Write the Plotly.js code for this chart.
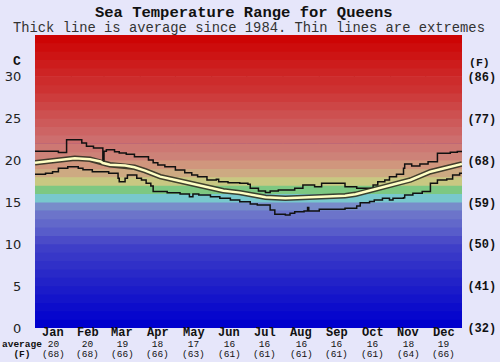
<!DOCTYPE html>
<html><head><meta charset="utf-8">
<script src="https://cdn.plot.ly/plotly-3.0.1.min.js"></script>
<style>html,body{margin:0;padding:0;background:#e6e6fa;} #chart{width:500px;height:362px;}</style>
</head><body><div id="chart"></div>
<script>
// ---- data ----
const months = ['Jan','Feb','Mar','Apr','May','Jun','Jul','Aug','Sep','Oct','Nov','Dec'];
const monthStarts = [0,31,59,90,120,151,181,212,243,273,304,334,365];
const avgC = [20,20,19,18,17,16,16,16,16,16,18,19];
const avgF = ['(68)','(68)','(66)','(66)','(63)','(61)','(61)','(61)','(61)','(61)','(64)','(66)'];
const tempTicksC = [0,5,10,15,20,25,30];
const tempTicksF = ['(32)','(41)','(50)','(59)','(68)','(77)','(86)'];

const avgDay  = [0,13,21,34,47,56,58,60,64,77,85,94,107,120,132,147,161,175,184,197,214,231,248,265,274,286,303,321,338,355,365];
const avgTemp = [19.75,19.95,20.1,20.27,20.15,19.9,19.7,19.65,19.5,19.4,19.2,18.8,18.08,17.68,17.29,16.81,16.4,16.17,15.97,15.61,15.49,15.57,15.69,15.81,15.97,16.4,16.97,17.68,18.67,19.27,19.6];

const maxDay  = [0,20,27,40,44,50,58,59,61,68,72,78,85,97,101,105,111,120,128,134,139,147,155,157,165,175,182,184,191,197,201,208,222,229,239,245,265,275,289,293,299,303,309,315,316,322,329,336,344,355,361,365];
const maxTemp = [21.1,20.95,22.5,22.1,21.7,21.5,19.7,21.1,21.3,21.05,20.9,20.75,20.45,20.07,19.75,19.47,19.27,18.88,18.56,18.28,18.08,17.68,17.76,17.48,17.36,17.29,17.17,16.69,16.37,16.2,16.37,16.49,16.69,17.08,16.88,17.29,16.88,16.69,17.08,17.48,17.68,18.08,18.36,19.07,19.6,19.35,19.6,19.87,20.87,20.99,21.07,21.07];

const minDay  = [0,9,15,20,28,37,41,49,63,71,72,77,79,87,91,95,99,101,113,124,132,135,140,150,158,167,175,184,190,201,205,214,218,222,230,233,234,243,265,275,278,286,290,297,303,306,315,316,323,331,338,344,352,357,363,365];
const minTemp = [18.36,18.48,18.67,19.08,19.27,19.08,18.9,18.67,18.48,17.88,17.48,17.88,18.28,17.88,17.68,17.29,16.97,16.3,16.17,16.0,15.69,16.0,15.9,15.69,15.49,15.29,15.09,14.8,14.7,14.1,13.58,13.5,13.7,13.9,13.98,14.4,13.98,14.2,14.3,14.58,14.97,15.1,15.29,15.49,15.29,15.49,15.57,15.89,16.09,16.3,17.29,17.68,17.8,18.28,18.48,18.48];

// ---- style ----
const bandColors = [
 'rgb(0,0,205)','rgb(6,6,205)','rgb(13,13,203)','rgb(20,20,202)','rgb(27,27,201)',
 'rgb(34,34,200)','rgb(41,41,200)','rgb(48,48,200)','rgb(55,55,200)','rgb(62,62,200)',
 'rgb(75,75,200)','rgb(88,92,202)','rgb(98,104,202)','rgb(108,116,202)','rgb(120,140,202)',
 'rgb(120,200,205)','rgb(125,200,130)','rgb(200,200,130)','rgb(205,170,130)','rgb(208,150,125)',
 'rgb(205,130,120)','rgb(205,120,115)','rgb(205,110,110)','rgb(205,100,100)','rgb(205,90,90)',
 'rgb(205,80,80)','rgb(205,70,70)','rgb(205,60,60)','rgb(205,50,50)','rgb(205,44,44)',
 'rgb(205,36,36)','rgb(205,28,28)','rgb(205,20,20)','rgb(205,12,12)','rgb(205,4,4)'];

const PL = 35, PR = 462, PW = PR - PL, PT = 35, PB = 328, PH = PB - PT;
const py = px => (PB - px) / PH;
const pxx = px => (px - PL) / PW;
const mono = 'Liberation Mono, Courier New, monospace';

const shapes = [];
bandColors.forEach((c, i) => shapes.push({type:'rect', xref:'x', yref:'y', x0:0, x1:365, y0:i,
  y1:Math.min(i + 1.08, bandColors.length), fillcolor:c, line:{width:0}, layer:'below'}));
tempTicksC.slice(1).forEach(v => shapes.push({type:'line', xref:'paper', yref:'y', x0:0, x1:1, y0:v, y1:v,
  line:{color:'rgba(250,250,250,0.95)', width:2}, layer:'below'}));
monthStarts.slice(1, -1).forEach(d => shapes.push({type:'line', xref:'x', yref:'paper', x0:d, x1:d, y0:0, y1:1,
  line:{color:'rgba(85,85,85,0.85)', width:1}, layer:'below'}));

function ann(text, xref, x, ypx, size, extra) {
  return Object.assign({text:text, xref:xref, yref:'paper', x:x, y:py(ypx), xanchor:'center', yanchor:'middle',
    showarrow:false, borderpad:0, font:{family:mono, size:size, color:'#111'}}, extra || {});
}
const small = s => '<span style="font-size:9.5px">' + s + '</span>';
const annotations = [
  ann('<b>Sea Temperature Range for Queens</b>', 'paper', pxx(244), 13, 15.5),
  ann('Thick line is average since 1984. Thin lines are extremes', 'paper', pxx(249), 28, 13.8,
      {font:{family:mono, size:13.8, color:'#333'}}),
  ann('<b>C</b>', 'paper', pxx(17), 61, 13),
  ann('<b>(F)</b>', 'paper', pxx(479), 63, 11.5),
  ann('<b>' + small('average') + '<br>' + small('(F)') + '</b>', 'paper', pxx(21.5), 349, 7.5)
];
months.forEach((m, i) => {
  const xc = (monthStarts[i] + monthStarts[i+1]) / 2;
  annotations.push(ann('<b>' + m + '</b>', 'x', xc, 333, 12));
  annotations.push(ann(small(String(avgC[i])) + '<br>' + small(avgF[i]), 'x', xc, 349, 7.5));
});

const traces = [
  {x:maxDay, y:maxTemp, mode:'lines', line:{color:'#111', width:1.5, shape:'hv'}, hoverinfo:'skip'},
  {x:minDay, y:minTemp, mode:'lines', line:{color:'#111', width:1.5, shape:'hv'}, hoverinfo:'skip'},
  {x:avgDay, y:avgTemp, mode:'lines', line:{color:'rgba(50,50,35,0.9)', width:5.5}, hoverinfo:'skip'},
  {x:avgDay, y:avgTemp, mode:'lines', line:{color:'#ffffc4', width:2.5}, hoverinfo:'skip'},
  {x:[0], y:[0], yaxis:'y2', mode:'markers', marker:{opacity:0}, hoverinfo:'skip'}
];

const layout = {
  width:500, height:362,
  margin:{l:PL, r:500-PR, t:PT, b:362-PB, pad:0},
  paper_bgcolor:'#e6e6fa', plot_bgcolor:'#0000cd',
  showlegend:false, hovermode:false,
  xaxis:{range:[0,365], showgrid:false, zeroline:false, showticklabels:false, ticks:'', fixedrange:true},
  yaxis:{range:[0,35], tickmode:'array', tickvals:tempTicksC, ticktext:tempTicksC.map(String),
    showgrid:false, zeroline:false, ticks:'outside', ticklen:10, tickcolor:'rgba(0,0,0,0)',
    tickfont:{family:'DejaVu Sans, sans-serif', size:13, color:'#222'}, fixedrange:true},
  yaxis2:{range:[0,35], overlaying:'y', side:'right', tickmode:'array', tickvals:tempTicksC, ticktext:tempTicksF,
    showgrid:false, zeroline:false, ticks:'outside', ticklen:2, tickcolor:'rgba(0,0,0,0)',
    tickfont:{family:mono, size:12, color:'#111', weight:'bold'}, fixedrange:true},
  shapes:shapes, annotations:annotations
};

Plotly.newPlot('chart', traces, layout, {staticPlot:true, displayModeBar:false});
</script></body></html>
